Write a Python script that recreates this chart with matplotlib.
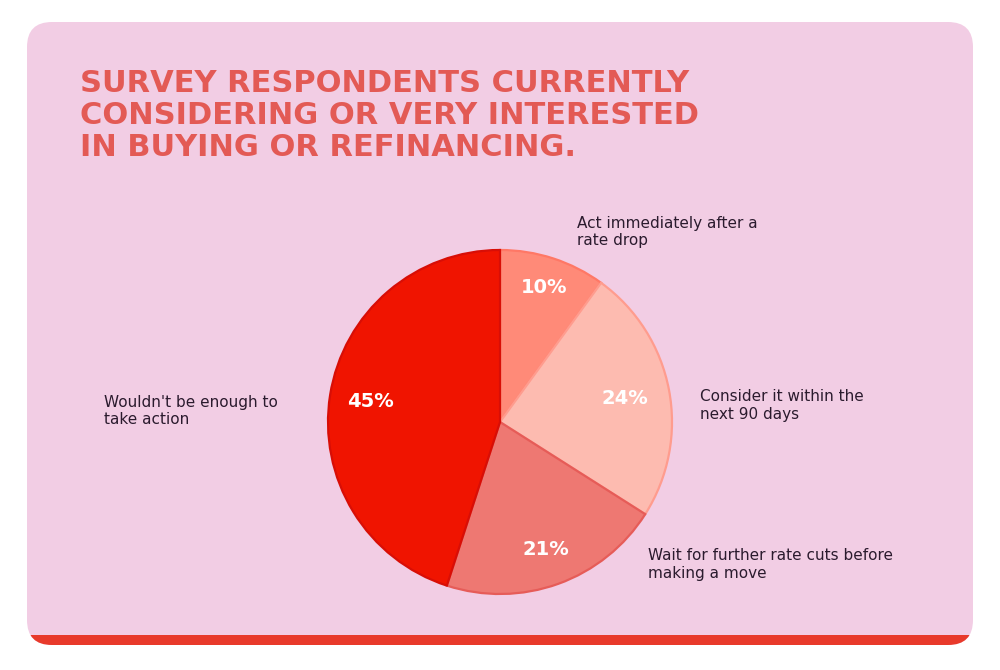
import matplotlib
matplotlib.use("Agg")
import numpy as np
import matplotlib.pyplot as plt
from matplotlib.patches import FancyBboxPatch, Rectangle

labels = ["Act immediately after a\nrate drop", "Consider it within the\nnext 90 days",
          "Wait for further rate cuts before\nmaking a move", "Wouldn't be enough to\ntake action"]
values = [10, 24, 21, 45]
colors = ["#FF8A78", "#FDBBB0", "#EE7872", "#F01400"]
edges = ["#FF7866", "#FF9C8E", "#E65C58", "#D80E06"]
title = "SURVEY RESPONDENTS CURRENTLY\nCONSIDERING OR VERY INTERESTED\nIN BUYING OR REFINANCING."

W, H = 1000, 670
fig = plt.figure(figsize=(W/100, H/100), dpi=100)
fig.patch.set_facecolor("white")

def fx(px): return px / W
def fy(py): return 1 - py / H

# card
card = FancyBboxPatch((fx(27), fy(645)), fx(973) - fx(27), fy(22) - fy(645),
                      boxstyle="round,pad=0,rounding_size=0.025", mutation_aspect=W/H,
                      transform=fig.transFigure, facecolor="#F2CDE4", edgecolor="none", zorder=-10)
fig.patches.append(card)
band = Rectangle((fx(20), fy(646)), fx(980) - fx(20), fy(635) - fy(646),
                 transform=fig.transFigure, facecolor="#E83A2B", edgecolor="none", zorder=-9)
fig.patches.append(band)
band.set_clip_path(card)

fig.text(fx(80), fy(69), title, ha="left", va="top", fontsize=22, fontweight="heavy",
         color="#E35A55", family="DejaVu Sans", linespacing=1.13)

cx, cy, r = 500, 422, 172
ax = fig.add_axes([fx(cx - r), fy(cy + r), 2 * r / W, 2 * r / H])
ax.set_facecolor("none")
ax.set_zorder(1)
wedges, texts, autotexts = ax.pie(values, colors=colors, startangle=90, counterclock=False,
                                  autopct="%d%%", pctdistance=0.78,
                                  wedgeprops=dict(linewidth=1.6),
                                  textprops=dict(color="white", fontsize=14, fontweight="bold"))
pct_dist = [0.82, 0.74, 0.79, 0.76]
for w, e, t, d in zip(wedges, edges, autotexts, pct_dist):
    w.set_edgecolor(e)
    ang = np.deg2rad((w.theta1 + w.theta2) / 2)
    t.set_position((d * np.cos(ang), d * np.sin(ang)))
ax.set_xlim(-1.0, 1.0); ax.set_ylim(-1.0, 1.0)
ax.set_aspect("equal")
ax.axis("off")

label_pos = [(577, 232), (700, 405.5), (648, 564.5), (104, 411)]
for lab, (px, py) in zip(labels, label_pos):
    fig.text(fx(px), fy(py), lab, ha="left", va="center", fontsize=11, color="#2B1B2E",
             linespacing=1.22)

fig.savefig("out.png", dpi=100, facecolor=fig.get_facecolor())
